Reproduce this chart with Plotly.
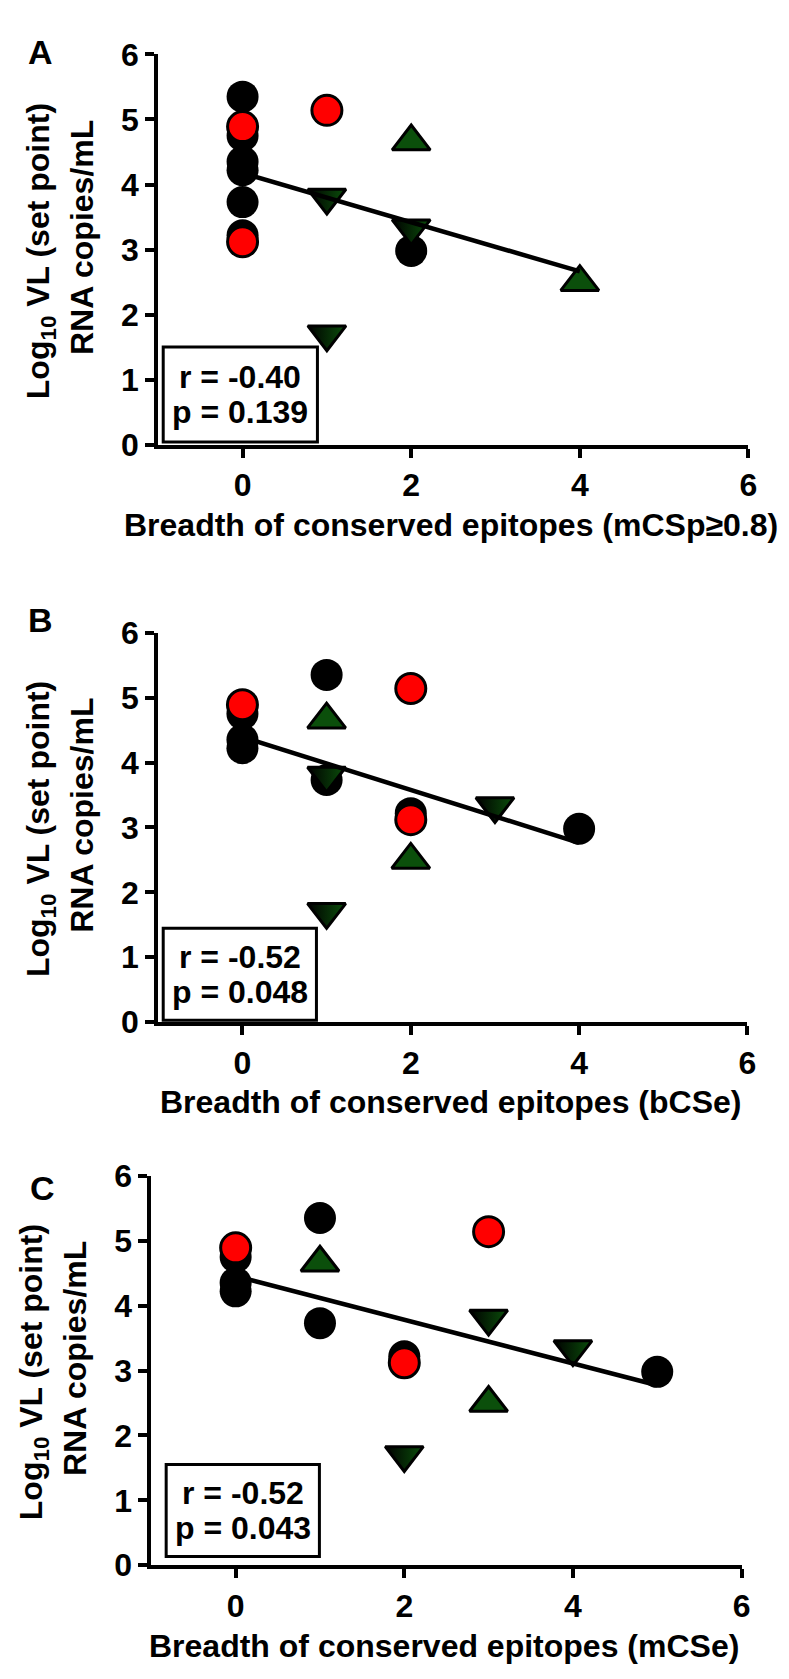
import numpy as np
import plotly.graph_objects as go

W, H = 789, 1679

# ---- data (15 subjects, same subjects in every panel) ----
groups = ["black"] * 7 + ["red"] * 3 + ["up"] * 2 + ["down"] * 3
vl_setpoint = [5.35, 4.75, 4.35, 4.22, 3.73, 3.22, 2.98,
               4.89, 3.12, 5.14,
               4.66, 2.50,
               3.80, 1.70, 3.33]
breadth_mCSp = [0, 0, 0, 0, 0, 0, 2, 0, 0, 1, 2, 4, 1, 1, 2]
breadth_bCSe = [1, 0, 0, 0, 1, 2, 4, 0, 2, 2, 1, 2, 1, 1, 3]
breadth_mCSe = [1, 0, 0, 0, 1, 2, 5, 0, 2, 3, 1, 3, 3, 2, 4]

panel_letters = ["A", "B", "C"]
x_titles = ["Breadth of conserved epitopes (mCSp≥0.8)",
            "Breadth of conserved epitopes (bCSe)",
            "Breadth of conserved epitopes (mCSe)"]
r_labels = ["r = -0.40", "r = -0.52", "r = -0.52"]
p_labels = ["p = 0.139", "p = 0.048", "p = 0.043"]
x_tick_vals = [0, 2, 4, 6]
y_tick_vals = [0, 1, 2, 3, 4, 5, 6]
y_title_1 = "Log<sub>10</sub> VL (set point)"
y_title_2 = "RNA copies/mL"

breadths = [breadth_mCSp, breadth_bCSe, breadth_mCSe]

# ---- layout geometry (pixels) ----
panels = [
    dict(x0=152, x1=749, yt=29, yb=428, box=(157, 313, 328, 425), letter=(33, 27)),
    dict(x0=152, x1=748, yt=620, yb=1018, box=(157, 312, 922, 1016), letter=(33, 607)),
    dict(x0=145, x1=742, yt=1175, yb=1573, box=(160, 315, 1470, 1564), letter=(35, 1187)),
]

def fx(px):
    return px / W

def fy(py):
    return 1 - py / H

FONT = "Liberation Sans, Arial, sans-serif"
GREEN = "#0B4F0B"

styles = {
    "black": dict(symbol="circle", size=32, color="black", line=dict(width=0, color="black")),
    "red": dict(symbol="circle", size=30, color="#FF0000", line=dict(width=3, color="black")),
    "up": dict(symbol="triangle-up", size=33, color=GREEN, line=dict(width=3, color="black")),
    "down": dict(symbol="triangle-down", size=33, color="black",
                 gradient=dict(type="horizontal", color=GREEN),
                 line=dict(width=3, color="black")),
}

fig = go.Figure()
annotations = []
shapes = []

for i, p in enumerate(panels):
    sfx = "" if i == 0 else str(i + 1)
    xa, ya = "x" + sfx, "y" + sfx
    xs = breadths[i]
    for g in ["black", "red", "up", "down"]:
        gx = [x for x, gg in zip(xs, groups) if gg == g]
        gy = [y for y, gg in zip(vl_setpoint, groups) if gg == g]
        fig.add_trace(go.Scatter(x=gx, y=gy, mode="markers", marker=styles[g],
                                 xaxis=xa, yaxis=ya, cliponaxis=False, showlegend=False))
    # linear regression line
    slope, intercept = np.polyfit(xs, vl_setpoint, 1)
    lx = np.array([min(xs), max(xs)])
    fig.add_trace(go.Scatter(x=lx, y=slope * lx + intercept, mode="lines",
                             line=dict(color="black", width=4.5),
                             xaxis=xa, yaxis=ya, cliponaxis=False, showlegend=False))

    axis_common = dict(showline=True, linecolor="black", linewidth=4, ticks="outside",
                       ticklen=9, tickwidth=4, tickcolor="black", showgrid=False,
                       zeroline=False,
                       tickfont=dict(family=FONT, size=32, color="black", weight="bold"))
    fig.update_layout(**{
        "xaxis" + sfx: dict(domain=[fx(p["x0"]), fx(p["x1"])], range=[-1, 6],
                            tickvals=x_tick_vals, anchor=ya, **axis_common),
        "yaxis" + sfx: dict(domain=[fy(p["yb"]), fy(p["yt"])], range=[0, 6],
                            tickvals=y_tick_vals, anchor=xa, **axis_common),
    })

    # panel letter
    annotations.append(dict(x=fx(p["letter"][0]), y=fy(p["letter"][1]), xref="paper", yref="paper",
                            text=panel_letters[i], showarrow=False, xanchor="center", yanchor="middle",
                            font=dict(family=FONT, size=34, color="black", weight="bold")))
    # y titles (two lines)
    ymid = (p["yt"] + p["yb"]) / 2
    annotations.append(dict(x=fx(p["x0"] - 119), y=fy(ymid + 2), xref="paper", yref="paper",
                            text=y_title_1, showarrow=False, textangle=-90,
                            xanchor="center", yanchor="middle",
                            font=dict(family=FONT, size=32, color="black", weight="bold")))
    annotations.append(dict(x=fx(p["x0"] - 77), y=fy(ymid - 12), xref="paper", yref="paper",
                            text=y_title_2, showarrow=False, textangle=-90,
                            xanchor="center", yanchor="middle",
                            font=dict(family=FONT, size=32, color="black", weight="bold")))
    # x title
    annotations.append(dict(x=fx((p["x0"] + p["x1"]) / 2 - 2), y=fy(p["yb"] + 82), xref="paper", yref="paper",
                            text=x_titles[i], showarrow=False, xanchor="center", yanchor="middle",
                            font=dict(family=FONT, size=32, color="black", weight="bold")))
    # stats box
    bx0, bx1, by0, by1 = p["box"]
    shapes.append(dict(type="rect", xref="paper", yref="paper",
                       x0=fx(bx0), x1=fx(bx1), y0=fy(by1), y1=fy(by0),
                       line=dict(color="black", width=3), fillcolor="white", layer="above"))
    bcx = (bx0 + bx1) / 2
    bcy = (by0 + by1) / 2
    annotations.append(dict(x=fx(bcx), y=fy(bcy - 18), xref="paper", yref="paper",
                            text=r_labels[i], showarrow=False, xanchor="center", yanchor="middle",
                            font=dict(family=FONT, size=32, color="black", weight="bold")))
    annotations.append(dict(x=fx(bcx), y=fy(bcy + 18), xref="paper", yref="paper",
                            text=p_labels[i], showarrow=False, xanchor="center", yanchor="middle",
                            font=dict(family=FONT, size=32, color="black", weight="bold")))

fig.update_layout(width=W, height=H, margin=dict(l=0, r=0, t=0, b=0),
                  paper_bgcolor="white", plot_bgcolor="white",
                  annotations=annotations, shapes=shapes, showlegend=False)

fig.write_html("out.html")
